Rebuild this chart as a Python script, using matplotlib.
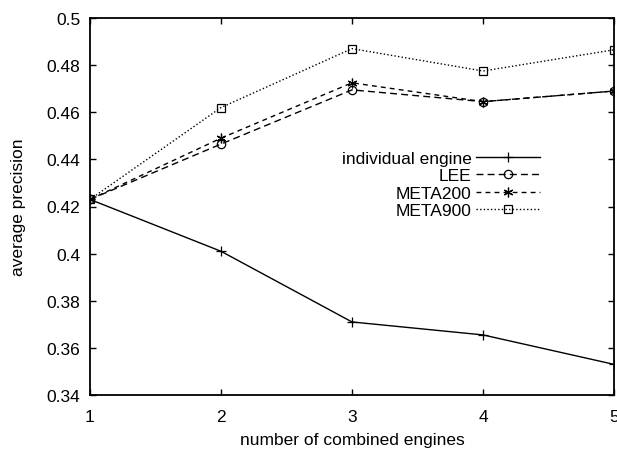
import matplotlib
matplotlib.use("Agg")
import matplotlib.pyplot as plt
from matplotlib.ticker import FuncFormatter

plt.rcParams["font.family"] = ["Liberation Sans", "DejaVu Sans"]

engines = [1, 2, 3, 4, 5]
individual = [0.423, 0.401, 0.371, 0.3655, 0.353]
lee = [0.423, 0.4465, 0.4695, 0.4645, 0.469]
meta200 = [0.423, 0.4490, 0.4725, 0.4645, 0.469]
meta900 = [0.423, 0.4620, 0.4870, 0.4775, 0.4865]

y_ticks = [0.34, 0.36, 0.38, 0.40, 0.42, 0.44, 0.46, 0.48, 0.50]

fig = plt.figure(figsize=(6.17, 4.52), dpi=100)
ax = fig.add_axes([90 / 617, 56 / 452, 524 / 617, 377 / 452])

ms = 6.0
ax.plot(engines, individual, color="black", lw=1.0, ls="-",
        marker="+", ms=ms + 1.5, mew=0.9, label="individual engine")
ax.plot(engines, lee, color="black", lw=1.0, ls=(0, (5, 3)),
        marker="o", ms=ms, mfc="none", mew=0.9, label="LEE")
ax.plot(engines, meta200, color="black", lw=1.0, ls=(0, (3.5, 3)),
        marker=(6, 2, 0), ms=ms + 1, mew=0.9, label="META200")
ax.plot(engines, meta900, color="black", lw=1.0, ls=(0, (1, 1.6)),
        marker="s", ms=ms, mfc="none", mew=0.9, label="META900")

ax.set_xlim(1, 5)
ax.set_ylim(0.34, 0.50)
ax.set_xticks(engines)
ax.set_yticks(y_ticks)
ax.yaxis.set_major_formatter(FuncFormatter(lambda v, p: f"{v:g}"))

ax.tick_params(direction="in", length=4, width=1.0, labelsize=12.5,
               top=True, right=True, colors="black")
ax.tick_params(axis="x", pad=10)
ax.tick_params(axis="y", pad=7)
for s in ax.spines.values():
    s.set_linewidth(1.3)

ax.set_xlabel("number of combined engines", fontsize=12.5, labelpad=6)
ax.set_ylabel("average precision", fontsize=12.5, labelpad=15)

leg = ax.legend(loc="upper right", bbox_to_anchor=(540 / 617, 1 - 152 / 452),
                bbox_transform=fig.transFigure, frameon=False,
                markerfirst=False, fontsize=12.5, handlelength=3.7,
                handletextpad=0.25, labelspacing=0.12, borderpad=0,
                borderaxespad=0)

fig.savefig("out.png", dpi=100)
